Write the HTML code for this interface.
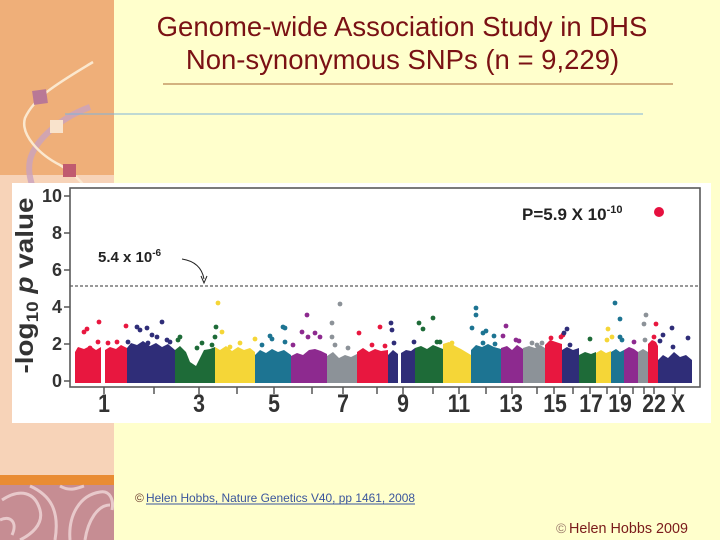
<!DOCTYPE html>
<html><head><meta charset="utf-8"><style>
html,body{margin:0;padding:0;background:#ffffcc;width:720px;height:540px;overflow:hidden}
svg{display:block}
</style></head><body>
<svg width="720" height="540" viewBox="0 0 720 540" xmlns="http://www.w3.org/2000/svg" font-family="Liberation Sans, Arial, sans-serif">
<rect x="0" y="0" width="720" height="540" fill="#ffffcc"/>
<!-- left panel -->
<rect x="0" y="0" width="114" height="175" fill="#efaf79"/>
<rect x="0" y="175" width="114" height="300" fill="#f7d3b8"/>
<rect x="0" y="475" width="114" height="10" fill="#e98c34"/>
<rect x="0" y="485" width="114" height="55" fill="#c68d93"/>
<g fill="none" stroke="#ecd0d2" stroke-width="3" opacity="0.9">
<path d="M2,500 C20,488 35,492 40,510 C44,525 30,535 20,540"/>
<path d="M30,486 C50,495 60,510 55,540"/>
<path d="M70,540 C68,515 80,495 100,492 C110,490 114,500 112,510"/>
<path d="M85,540 C88,520 98,505 110,505"/>
<path d="M0,520 C10,515 18,522 12,535"/>
<path d="M60,486 C70,492 78,488 84,486"/>
</g>
<!-- decorative curves -->
<path d="M90,107 C60,118 35,140 30,160 C28,170 30,178 32,185" fill="none" stroke="#c9a2bf" stroke-width="6" opacity="0.8"/>
<path d="M93,62 C60,82 35,96 25,118 C20,135 40,155 60,165 C72,172 80,180 86,188" fill="none" stroke="#fbe8cf" stroke-width="2.5"/>
<rect x="33" y="90" width="14" height="14" fill="#b97896" transform="rotate(-8 40 97)"/>
<rect x="50" y="120" width="13" height="13" fill="#f9e3cc"/>
<rect x="63" y="164" width="13" height="13" fill="#c05b6f"/>
<!-- title -->
<g fill="#7a1114" font-size="27.5" text-anchor="middle">
<text x="402" y="36">Genome-wide Association  Study in DHS</text>
<text x="402.5" y="69">Non-synonymous SNPs (n = 9,229)</text>
</g>
<line x1="163" y1="84" x2="673" y2="84" stroke="#d3b27f" stroke-width="2"/>
<line x1="65" y1="114" x2="643" y2="114" stroke="#7fb3da" stroke-width="1"/>
<!-- chart box -->
<rect x="12" y="183" width="699" height="240" fill="#ffffff"/>
<!-- blobs -->
<g>
<polygon fill="#e8173f" points="75,383 75,352 78,347 84,349 90,346 96,350 101,347 101,383"/>
<polygon fill="#e8173f" points="105,383 105,350 110,347 116,349 121,345 127,348 127,383"/>
<polygon fill="#2f2d78" points="127,383 127,348 131,343 137,345 143,341 150,346 156,343 162,347 168,344 175,350 175,383"/>
<polygon fill="#1e6b38" points="175,383 175,350 180,346 186,352 190,362 196,366 200,358 204,350 210,349 215,347 215,383"/>
<polygon fill="#f5d637" points="215,383 215,347 220,350 226,346 232,351 238,347 244,350 250,348 255,352 255,383"/>
<polygon fill="#1d7492" points="255,383 255,355 260,350 266,353 272,349 278,352 284,350 291,355 291,383"/>
<polygon fill="#8d2a8f" points="291,383 291,356 297,353 303,355 309,350 315,349 321,351 327,354 327,383"/>
<polygon fill="#8c9298" points="327,383 327,356 333,352 339,358 345,355 351,357 357,354 357,383"/>
<polygon fill="#e8173f" points="357,383 357,352 363,348 369,352 375,349 381,351 388,350 388,383"/>
<polygon fill="#2f2d78" points="388,383 388,355 393,350 398,354 398,383"/>
<polygon fill="#2f2d78" points="401,383 401,353 406,350 411,351 415,348 415,383"/>
<polygon fill="#1e6b38" points="415,383 415,348 421,346 427,349 433,345 438,347 443,349 443,383"/>
<polygon fill="#f5d637" points="443,383 443,344 449,342 455,346 461,349 466,352 471,355 471,383"/>
<polygon fill="#1d7492" points="471,383 471,350 476,345 482,347 488,344 494,347 501,349 501,383"/>
<polygon fill="#8d2a8f" points="501,383 501,348 507,346 512,350 517,345 523,349 523,383"/>
<polygon fill="#8c9298" points="523,383 523,348 529,346 535,348 540,345 545,348 545,383"/>
<polygon fill="#e8173f" points="545,383 545,345 550,340 556,342 562,344 562,383"/>
<polygon fill="#2f2d78" points="562,383 562,350 567,347 573,350 579,348 579,383"/>
<polygon fill="#1e6b38" points="579,383 579,355 585,352 591,354 596,352 596,383"/>
<polygon fill="#f5d637" points="596,383 596,353 601,350 606,353 611,351 611,383"/>
<polygon fill="#1d7492" points="611,383 611,352 616,349 620,352 624,350 624,383"/>
<polygon fill="#8d2a8f" points="624,383 624,350 629,347 634,349 638,352 638,383"/>
<polygon fill="#8c9298" points="638,383 638,352 643,349 648,352 648,383"/>
<polygon fill="#e8173f" points="648,383 648,344 652,340 656,342 658,346 658,383"/>
<polygon fill="#2f2d78" points="658,383 658,360 663,355 668,358 674,352 680,357 686,355 692,360 692,383"/>
</g>
<!-- outliers -->
<g fill="#e8173f">
<circle cx="84" cy="332" r="2.4"/><circle cx="87" cy="329" r="2.4"/><circle cx="99" cy="322" r="2.4"/><circle cx="126" cy="326" r="2.4"/>
<circle cx="98" cy="342" r="2.4"/><circle cx="108" cy="343" r="2.4"/><circle cx="117" cy="342" r="2.4"/><circle cx="79" cy="350" r="2.4"/><circle cx="90" cy="348" r="2.4"/>
<circle cx="359" cy="333" r="2.4"/><circle cx="380" cy="327" r="2.4"/><circle cx="372" cy="345" r="2.4"/><circle cx="385" cy="346" r="2.4"/>
<circle cx="551" cy="338" r="2.4"/><circle cx="561" cy="337" r="2.4"/><circle cx="563" cy="335" r="2.4"/>
<circle cx="656" cy="324" r="2.4"/><circle cx="654" cy="337" r="2.4"/><circle cx="653" cy="343" r="2.4"/>
</g>
<g fill="#2f2d78">
<circle cx="137" cy="327" r="2.4"/><circle cx="140" cy="330" r="2.4"/><circle cx="147" cy="328" r="2.4"/><circle cx="152" cy="335" r="2.4"/>
<circle cx="162" cy="322" r="2.4"/><circle cx="157" cy="337" r="2.4"/><circle cx="128" cy="342" r="2.4"/><circle cx="167" cy="340" r="2.4"/><circle cx="170" cy="342" r="2.4"/><circle cx="148" cy="343" r="2.4"/>
<circle cx="391" cy="323" r="2.4"/><circle cx="392" cy="330" r="2.4"/><circle cx="394" cy="343" r="2.4"/><circle cx="414" cy="342" r="2.4"/>
<circle cx="567" cy="329" r="2.4"/><circle cx="564" cy="333" r="2.4"/><circle cx="570" cy="345" r="2.4"/>
<circle cx="672" cy="328" r="2.4"/><circle cx="663" cy="335" r="2.4"/><circle cx="660" cy="341" r="2.4"/><circle cx="688" cy="338" r="2.4"/><circle cx="673" cy="347" r="2.4"/>
</g>
<g fill="#1e6b38">
<circle cx="180" cy="337" r="2.4"/><circle cx="178" cy="340" r="2.4"/><circle cx="202" cy="343" r="2.4"/><circle cx="216" cy="327" r="2.4"/>
<circle cx="215" cy="337" r="2.4"/><circle cx="197" cy="348" r="2.4"/><circle cx="212" cy="345" r="2.4"/>
<circle cx="419" cy="323" r="2.4"/><circle cx="423" cy="329" r="2.4"/><circle cx="433" cy="318" r="2.4"/><circle cx="437" cy="342" r="2.4"/><circle cx="440" cy="342" r="2.4"/>
<circle cx="590" cy="339" r="2.4"/>
</g>
<g fill="#f5d637">
<circle cx="218" cy="303" r="2.4"/><circle cx="222" cy="332" r="2.4"/><circle cx="240" cy="343" r="2.4"/><circle cx="255" cy="339" r="2.4"/><circle cx="230" cy="347" r="2.4"/>
<circle cx="452" cy="343" r="2.4"/><circle cx="447" cy="348" r="2.4"/>
<circle cx="608" cy="329" r="2.4"/><circle cx="607" cy="340" r="2.4"/><circle cx="612" cy="337" r="2.4"/>
</g>
<g fill="#1d7492">
<circle cx="270" cy="336" r="2.4"/><circle cx="272" cy="339" r="2.4"/><circle cx="283" cy="327" r="2.4"/><circle cx="285" cy="328" r="2.4"/><circle cx="285" cy="342" r="2.4"/><circle cx="262" cy="345" r="2.4"/>
<circle cx="476" cy="308" r="2.4"/><circle cx="476" cy="315" r="2.4"/><circle cx="472" cy="328" r="2.4"/><circle cx="483" cy="333" r="2.4"/><circle cx="486" cy="331" r="2.4"/><circle cx="494" cy="336" r="2.4"/><circle cx="483" cy="343" r="2.4"/><circle cx="495" cy="344" r="2.4"/>
<circle cx="615" cy="303" r="2.4"/><circle cx="620" cy="319" r="2.4"/><circle cx="620" cy="337" r="2.4"/><circle cx="622" cy="340" r="2.4"/>
</g>
<g fill="#8d2a8f">
<circle cx="307" cy="315" r="2.4"/><circle cx="302" cy="332" r="2.4"/><circle cx="308" cy="337" r="2.4"/><circle cx="315" cy="333" r="2.4"/><circle cx="320" cy="337" r="2.4"/><circle cx="293" cy="345" r="2.4"/>
<circle cx="506" cy="326" r="2.4"/><circle cx="503" cy="336" r="2.4"/><circle cx="516" cy="340" r="2.4"/><circle cx="519" cy="341" r="2.4"/>
<circle cx="634" cy="342" r="2.4"/>
</g>
<g fill="#8c9298">
<circle cx="340" cy="304" r="2.4"/><circle cx="332" cy="323" r="2.4"/><circle cx="332" cy="337" r="2.4"/><circle cx="335" cy="345" r="2.4"/><circle cx="348" cy="348" r="2.4"/>
<circle cx="532" cy="343" r="2.4"/><circle cx="537" cy="345" r="2.4"/><circle cx="542" cy="343" r="2.4"/>
<circle cx="646" cy="315" r="2.4"/><circle cx="644" cy="324" r="2.4"/><circle cx="645" cy="340" r="2.4"/>
</g>
<circle cx="659" cy="212" r="5" fill="#e6103f"/>
<!-- dashed threshold -->
<line x1="70" y1="286" x2="700" y2="286" stroke="#333" stroke-width="1" stroke-dasharray="3,2"/>
<!-- frame -->
<rect x="70" y="188" width="630" height="199" fill="none" stroke="#5a5a5a" stroke-width="1.6"/>
<!-- y ticks -->
<g stroke="#555" stroke-width="1.5">
<line x1="64" y1="196" x2="70" y2="196"/><line x1="64" y1="233" x2="70" y2="233"/><line x1="64" y1="270" x2="70" y2="270"/>
<line x1="64" y1="307" x2="70" y2="307"/><line x1="64" y1="344" x2="70" y2="344"/><line x1="64" y1="381" x2="70" y2="381"/>
</g>
<g font-size="18" font-weight="bold" fill="#333" text-anchor="end">
<text x="62" y="202">10</text><text x="62" y="239">8</text><text x="62" y="276">6</text>
<text x="62" y="313">4</text><text x="62" y="350">2</text><text x="62" y="387">0</text>
</g>
<!-- x ticks -->
<g stroke="#555" stroke-width="1.5">
<line x1="104" y1="387" x2="104" y2="394"/><line x1="154" y1="387" x2="154" y2="394"/><line x1="199" y1="387" x2="199" y2="394"/>
<line x1="237" y1="387" x2="237" y2="394"/><line x1="274" y1="387" x2="274" y2="394"/><line x1="312" y1="387" x2="312" y2="394"/>
<line x1="343" y1="387" x2="343" y2="394"/><line x1="377" y1="387" x2="377" y2="394"/><line x1="403" y1="387" x2="403" y2="394"/>
<line x1="433" y1="387" x2="433" y2="394"/><line x1="459" y1="387" x2="459" y2="394"/><line x1="486" y1="387" x2="486" y2="394"/>
<line x1="512" y1="387" x2="512" y2="394"/><line x1="537" y1="387" x2="537" y2="394"/><line x1="554" y1="387" x2="554" y2="394"/>
<line x1="573" y1="387" x2="573" y2="394"/><line x1="590" y1="387" x2="590" y2="394"/><line x1="607" y1="387" x2="607" y2="394"/>
<line x1="620" y1="387" x2="620" y2="394"/><line x1="633" y1="387" x2="633" y2="394"/><line x1="644" y1="387" x2="644" y2="394"/>
<line x1="654" y1="387" x2="654" y2="394"/><line x1="675" y1="387" x2="675" y2="394"/>
</g>
<g font-size="25" font-weight="bold" fill="#333" text-anchor="middle">
<text transform="translate(104,412) scale(0.85,1)">1</text>
<text transform="translate(199,412) scale(0.85,1)">3</text>
<text transform="translate(274,412) scale(0.85,1)">5</text>
<text transform="translate(343,412) scale(0.85,1)">7</text>
<text transform="translate(403,412) scale(0.85,1)">9</text>
<text transform="translate(459,412) scale(0.85,1)">11</text>
<text transform="translate(511,412) scale(0.85,1)">13</text>
<text transform="translate(555,412) scale(0.85,1)">15</text>
<text transform="translate(591,412) scale(0.85,1)">17</text>
<text transform="translate(620,412) scale(0.85,1)">19</text>
<text transform="translate(654,412) scale(0.85,1)">22</text>
<text transform="translate(678,412) scale(0.85,1)">X</text>
</g>
<!-- y axis title -->
<text transform="translate(33,285.5) rotate(-90)" text-anchor="middle" font-size="25" font-weight="bold" fill="#333" textLength="176" lengthAdjust="spacingAndGlyphs">-log<tspan font-size="17" dy="5">10</tspan><tspan dy="-5"> </tspan><tspan font-style="italic">p</tspan> value</text>
<!-- annotations -->
<text x="98" y="262" font-size="15" font-weight="bold" fill="#222">5.4 x 10<tspan dy="-6" font-size="10">-6</tspan></text>
<path d="M182,259 Q201,262 204,279" fill="none" stroke="#222" stroke-width="1"/>
<path d="M201,276 L204,283 L207,276" fill="none" stroke="#222" stroke-width="1"/>
<text x="522" y="220" font-size="17" font-weight="bold" fill="#222">P=5.9 X 10<tspan dy="-7" font-size="11">-10</tspan></text>
<!-- footer -->
<text x="135" y="502" font-size="12" fill="#6b3a2a">©</text>
<text x="146" y="502" font-size="12" fill="#3a559c" textLength="269" lengthAdjust="spacingAndGlyphs">Helen Hobbs, Nature Genetics V40, pp 1461, 2008</text>
<line x1="146" y1="504" x2="415" y2="504" stroke="#3a559c" stroke-width="1"/>
<text x="556" y="533" font-size="14" fill="#9a7a6a">©</text>
<text x="569" y="533" font-size="14.5" fill="#7a1a1a" textLength="119" lengthAdjust="spacingAndGlyphs">Helen Hobbs 2009</text>
</svg>
</body></html>
